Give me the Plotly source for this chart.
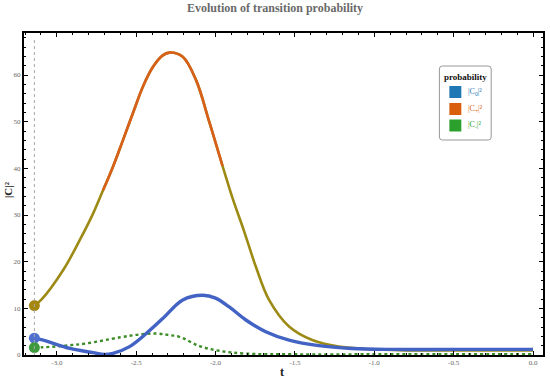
import math
import plotly.graph_objects as go

# ---- data ----
t_plus = [-3.1416, -3.096, -2.96, -2.856, -2.772, -2.709, -2.647, -2.584, -2.521, -2.458,
          -2.395, -2.333, -2.291, -2.207, -2.123, -2.04, -1.956, -1.893, -1.82, -1.746,
          -1.663, -1.537, -1.391, -1.224, -1.056, -0.8, -0.5, 0.0]
c_plus = [10.6, 11.9, 18.2, 24.6, 30.3, 35.3, 40.3, 46.0, 51.8, 57.5,
          61.7, 64.2, 64.8, 63.9, 58.9, 50.0, 40.5, 33.6, 26.5, 18.9,
          11.8, 6.1, 3.2, 1.8, 1.3, 1.0, 0.95, 0.95]

t_zero = [-3.1416, -3.086, -2.918, -2.772, -2.70, -2.646, -2.542, -2.437, -2.333, -2.207,
          -2.082, -2.0, -1.914, -1.809, -1.684, -1.537, -1.349, -1.14, -0.9, -0.5, 0.0]
c_zero = [3.6, 3.2, 1.4, 0.5, 0.1, 0.35, 1.8, 4.6, 7.8, 11.8,
          12.8, 12.2, 10.3, 7.5, 5.0, 3.2, 2.0, 1.4, 1.2, 1.2, 1.2]

t_minus = [-3.1416, -3.088, -2.95, -2.81, -2.60, -2.48, -2.374, -2.30, -2.228, -2.10,
           -1.977, -1.81, -1.5, -1.0, -0.5, 0.0]
c_minus = [1.6, 1.65, 2.0, 2.5, 3.8, 4.4, 4.6, 4.3, 3.9, 1.9,
           0.9, 0.3, 0.15, 0.15, 0.15, 0.15]

x_ticks = [-3.0, -2.5, -2.0, -1.5, -1.0, -0.5, 0.0]
x_tick_text = ["-3.0", "-2.5", "-2.0", "-1.5", "-1.0", "-0.5", "0.0"]
y_ticks = [0, 10, 20, 30, 40, 50, 60]

legend_title = "probability"
legend_names = ["|C<sub>0</sub>|²", "|C<sub>+</sub>|²", "|C<sub>-</sub>|²"]
legend_colors = ["#1f77b4", "#d95f0e", "#2ca02c"]

t_start = -math.pi
threshold = 35.0

FONT = "Liberation Serif"
fig = go.Figure()

# olive (lower) and orange (upper) parts of |C+|^2
fig.add_trace(go.Scatter(x=t_plus, y=c_plus, mode="lines",
                         line=dict(color="#9c8a14", width=2.6, shape="spline", smoothing=1.0),
                         showlegend=False))
upper = [v if v >= threshold else None for v in c_plus]
fig.add_trace(go.Scatter(x=t_plus, y=upper, mode="lines",
                         line=dict(color="#d8601a", width=2.6, shape="spline", smoothing=1.0),
                         showlegend=False, connectgaps=False))
# |C-|^2 green dotted
fig.add_trace(go.Scatter(x=t_minus, y=c_minus, mode="lines",
                         line=dict(color="#3c8c28", width=2.4, dash="dot", shape="spline", smoothing=1.0),
                         showlegend=False))
# |C0|^2 blue
fig.add_trace(go.Scatter(x=t_zero, y=c_zero, mode="lines",
                         line=dict(color="#4262c4", width=3.4, shape="spline", smoothing=1.0),
                         showlegend=False))

# start markers
fig.add_trace(go.Scatter(x=[t_plus[0], t_zero[0], t_minus[0]], y=[c_plus[0], c_zero[0], c_minus[0]],
                         mode="markers", marker=dict(size=11, color=["#a5860f", "#5070d0", "#3d9b3d"]),
                         showlegend=False))

fig.add_shape(type="line", x0=t_start, x1=t_start, y0=0, y1=68, xref="x", yref="y",
              line=dict(color="#a8a8a8", width=1, dash="dot"))

# ---- legend box (paper coordinates) ----
W, H, L, B = 521.0, 322.0, 24.0, 355.0
def px(x):
    return (x - L) / W
def py(y):
    return (B - y) / H

bx0, bx1, by0, by1 = px(441), px(493), py(140), py(66)
rx, ry = 3 / W, 3 / H
path = (f"M {bx0+rx},{by1} L {bx1-rx},{by1} Q {bx1},{by1} {bx1},{by1-ry} "
        f"L {bx1},{by0+ry} Q {bx1},{by0} {bx1-rx},{by0} L {bx0+rx},{by0} "
        f"Q {bx0},{by0} {bx0},{by0+ry} L {bx0},{by1-ry} Q {bx0},{by1} {bx0+rx},{by1} Z")
fig.add_shape(type="path", path=path, xref="paper", yref="paper",
              line=dict(color="#999999", width=1), fillcolor="white", layer="above")
fig.add_annotation(x=px(467), y=py(77), xref="paper", yref="paper", text=f"<b>{legend_title}</b>",
                   showarrow=False, font=dict(family=FONT, size=9, color="#111"),
                   xanchor="center", yanchor="middle")
row_y = [92, 109, 125.5]
for name, col, ry_ in zip(legend_names, legend_colors, row_y):
    fig.add_shape(type="rect", xref="paper", yref="paper",
                  x0=px(451), x1=px(463), y0=py(ry_ + 6), y1=py(ry_ - 6),
                  fillcolor=col, line=dict(width=0), layer="above")
    fig.add_annotation(x=px(468), y=py(ry_), xref="paper", yref="paper", text=name,
                       showarrow=False, font=dict(family=FONT, size=8, color=col),
                       xanchor="left", yanchor="middle")

# axis titles
fig.add_annotation(x=px(283), y=py(372), xref="paper", yref="paper", text="<b>t</b>", showarrow=False,
                   font=dict(family=FONT, size=12, color="#222"), xanchor="center", yanchor="middle")
fig.add_annotation(x=px(8), y=py(190), xref="paper", yref="paper", text="<b>|C|²</b>", showarrow=False,
                   textangle=-90, font=dict(family=FONT, size=11, color="#222"),
                   xanchor="center", yanchor="middle")

fig.update_layout(
    width=550, height=381,
    margin=dict(l=24, r=5, t=33, b=26),
    paper_bgcolor="white", plot_bgcolor="white",
    showlegend=False,
    font=dict(family=FONT, color="#444"),
    title=dict(text="<b>Evolution of transition probability</b>", x=0.5, xanchor="center",
               y=0.99, yanchor="top", font=dict(family=FONT, size=12, color="#6a6a6a")),
    xaxis=dict(range=[-3.207, 0.063], tickvals=x_ticks, ticktext=x_tick_text, showgrid=False, zeroline=False,
               showline=True, linecolor="black", linewidth=2, mirror="allticks", ticks="inside", ticklen=4,
               tickcolor="black", tickfont=dict(family=FONT, size=7, color="#666"),
               minor=dict(dtick=0.1, ticks="inside", ticklen=2, tickcolor="black", showgrid=False)),
    yaxis=dict(range=[0, 69], tickvals=y_ticks, showgrid=False, zeroline=False,
               showline=True, linecolor="black", linewidth=2, mirror="allticks", ticks="inside", ticklen=4,
               tickcolor="black", tickfont=dict(family=FONT, size=7, color="#666"),
               minor=dict(dtick=2, ticks="inside", ticklen=2, tickcolor="black", showgrid=False)),
)

fig.write_html("out.html", config={"displayModeBar": False},
               post_script="document.body.style.margin='0';document.body.style.overflow='hidden';")
